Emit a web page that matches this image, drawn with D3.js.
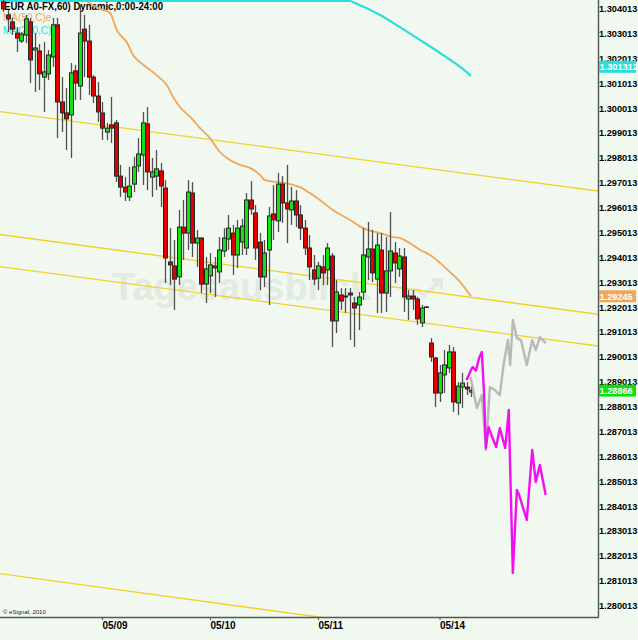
<!DOCTYPE html>
<html><head><meta charset="utf-8">
<script src="https://cdn.jsdelivr.net/npm/d3@7"></script>
<style>
html,body{margin:0;padding:0;background:#f0f8f0;}
svg{display:block;}
text{font-family:"Liberation Sans",Arial,sans-serif;}
</style></head><body>
<script>
// ---------- DATA (hourly bars, index 0 = 05/08 02:00) ----------
const opens = [1.30428,1.30376,1.30348,1.30303,1.30271,1.30295,1.30348,1.30235,1.30231,1.30126,
1.30139,1.30207,1.30336,1.30026,1.29982,1.29974,1.30151,1.30090,1.30319,1.30271,
1.30126,1.30050,1.29982,1.29905,1.29934,1.29942,1.29728,1.29684,1.29644,1.29696,
1.29769,1.29813,1.29938,1.29724,1.29728,1.29749,1.29680,1.29383,1.29367,1.29323,
1.29523,1.29499,1.29660,1.29459,1.29479,1.29294,1.29327,1.29367,1.29343,1.29427,
1.29475,1.29499,1.29411,1.29463,1.29439,1.29632,1.29580,1.29463,1.29323,1.29431,
1.29576,1.29548,1.29696,1.29620,1.29592,1.29628,1.29572,1.29519,1.29439,1.29351,
1.29318,1.29363,1.29351,1.29407,1.29146,1.29250,1.29242,1.29258,1.29218,1.29210,
1.29262,1.29403,1.29435,1.29314,1.29431,1.29258,1.29347,1.29419,1.29355,1.29403,
1.29234,1.29246,1.29234,1.29138,1.29202,1.29057,1.28997,1.28856,1.28929,1.28957,
1.29021,1.28816,1.28880,1.28880,1.28860];
const highs = [1.30436,1.30396,1.30364,1.30327,1.30307,1.30376,1.30364,1.30303,1.30259,1.30267,
1.30235,1.30364,1.30364,1.30126,1.30082,1.30183,1.30175,1.30416,1.30376,1.30336,
1.30134,1.30106,1.30026,1.29942,1.30046,1.29954,1.29773,1.29724,1.29765,1.29805,
1.29881,1.29986,1.30006,1.29801,1.29833,1.29781,1.29712,1.29519,1.29471,1.29592,
1.29632,1.29712,1.29704,1.29511,1.29483,1.29403,1.29419,1.29403,1.29483,1.29519,
1.29572,1.29532,1.29552,1.29556,1.29660,1.29708,1.29612,1.29499,1.29471,1.29604,
1.29692,1.29741,1.29728,1.29773,1.29684,1.29672,1.29612,1.29552,1.29491,1.29411,
1.29383,1.29411,1.29459,1.29419,1.29310,1.29278,1.29278,1.29278,1.29242,1.29262,
1.29519,1.29544,1.29511,1.29499,1.29499,1.29483,1.29584,1.29463,1.29439,1.29439,
1.29270,1.29270,1.29242,1.29210,1.29206,1.29077,1.29001,1.28969,1.29029,1.29049,
1.29041,1.28900,1.28937,1.28900,1.28884];
const lows = [1.30388,1.30307,1.30295,1.30227,1.30263,1.30263,1.30102,1.30066,1.30074,1.29986,
1.30114,1.30167,1.29881,1.29905,1.29833,1.29801,1.30034,1.30034,1.30126,1.30054,
1.30022,1.29946,1.29873,1.29873,1.29861,1.29704,1.29644,1.29628,1.29628,1.29664,
1.29745,1.29692,1.29672,1.29644,1.29672,1.29604,1.29298,1.29290,1.29190,1.29290,
1.29391,1.29431,1.29403,1.29363,1.29258,1.29218,1.29258,1.29242,1.29298,1.29403,
1.29431,1.29331,1.29359,1.29411,1.29411,1.29572,1.29391,1.29270,1.29282,1.29210,
1.29471,1.29503,1.29540,1.29459,1.29532,1.29523,1.29471,1.29411,1.29310,1.29290,
1.29270,1.29290,1.29290,1.29041,1.29097,1.29190,1.29178,1.29069,1.29041,1.29109,
1.29230,1.29310,1.29302,1.29178,1.29178,1.29182,1.29242,1.29298,1.29323,1.29182,
1.29150,1.29190,1.29130,1.29121,1.29198,1.28981,1.28800,1.28820,1.28856,1.28937,
1.28780,1.28768,1.28796,1.28848,1.28840];
const closes = [1.30400,1.30360,1.30319,1.30283,1.30299,1.30360,1.30195,1.30243,1.30139,1.30147,
1.30215,1.30336,1.30026,1.29982,1.29958,1.30143,1.30102,1.30303,1.30271,1.30126,
1.30050,1.29986,1.29921,1.29921,1.29921,1.29728,1.29684,1.29664,1.29688,1.29765,
1.29817,1.29942,1.29745,1.29745,1.29757,1.29688,1.29399,1.29371,1.29314,1.29523,
1.29499,1.29664,1.29459,1.29479,1.29294,1.29355,1.29371,1.29359,1.29431,1.29479,
1.29519,1.29411,1.29519,1.29527,1.29632,1.29596,1.29439,1.29323,1.29419,1.29568,
1.29552,1.29696,1.29620,1.29596,1.29628,1.29572,1.29519,1.29439,1.29363,1.29314,
1.29367,1.29339,1.29439,1.29146,1.29262,1.29226,1.29246,1.29250,1.29198,1.29242,
1.29411,1.29435,1.29339,1.29451,1.29258,1.29347,1.29427,1.29379,1.29407,1.29242,
1.29246,1.29234,1.29154,1.29198,1.29202,1.29001,1.28856,1.28937,1.28969,1.29021,
1.28820,1.28884,1.28896,1.28872,1.28866];

// moving averages as (bar index, value)
const ma50Index = [16,18.2,21.6,23.8,25.3,27.6,28.9,30.4,32.7,34.9,36.4,37.8,39.3,41.6,43.8,46,48.2,50.4,52.7,54.9,57.1,58.2,60.9,63.8,66,68.2,70.4,73.3,77.1,80,83.8,86.7,88.2,90.4,92.7,94.9,97.1,99.3,101.6,104];
const ma50Value = [1.30468,1.30436,1.30400,1.30384,1.30315,1.30263,1.30215,1.30187,1.30155,1.30122,1.30094,1.30046,1.30006,1.29966,1.29921,1.29881,1.29825,1.29793,1.29773,1.29761,1.29733,1.29712,1.29704,1.29696,1.29684,1.29660,1.29632,1.29592,1.29552,1.29519,1.29499,1.29483,1.29479,1.29459,1.29431,1.29411,1.29379,1.29343,1.29302,1.29245];
const ma200Index = [-1,77.1,78.2,83.8,88.2,92.7,97.1,101.6,104];
const ma200Value = [1.30432,1.30432,1.30424,1.30376,1.30327,1.30275,1.30223,1.30167,1.301312];

// trend channel lines (start / end prices)
const channelStart = [1.29988,1.29494,1.29365,1.28131];
const channelEnd   = [1.29666,1.29171,1.29043,1.27801];
const channelIdx   = [-1,133];

// projections
const magentaIndex = [103.0,104.0,104.4,105.1,105.8,106.4,106.9,107.3,107.9,108.7,109.6,110.4,111.6,112.4,112.7,113.3,114.2,114.7,116.4,117.6,118.4,119.3,120.6];
const magentaValue = [1.28908,1.28949,1.28961,1.28946,1.28997,1.29021,1.28856,1.28635,1.28719,1.28679,1.28639,1.28715,1.28635,1.28788,1.28559,1.28133,1.28466,1.28446,1.28346,1.28627,1.28498,1.28567,1.28446];
const grayIndex = [103.9,104.7,105.3,106.4,107.3,108.2,109.3,110.4,111.3,112.2,112.7,113.3,114.2,115.1,116.4,117.6,118.4,119.3,120.6];
const grayValue = [1.28920,1.28848,1.28796,1.28848,1.28627,1.28880,1.28868,1.28848,1.28977,1.29069,1.28969,1.29150,1.29077,1.29069,1.28969,1.29069,1.29029,1.29081,1.29057];

// axis labels
const dateLabels = ["05/09","05/10","05/11","05/14"];
const dateTickIndex = [22,46,70,97];
const priceTicks = d3.range(0,25).map(k => +(1.280013 + k*0.001).toFixed(6));
const markerValues = [1.301312,1.29245,1.28866];
const markerLabels = ["1.301312","1.29245","1.28866"];
const markerColors = ["#28dede","#f2a65a","#12dc12"];

// ---------- CHART ----------
const W = 638, H = 640, plotR = 598, plotB = 617;
const svg = d3.select("body").append("svg").attr("width",W).attr("height",H);
svg.append("rect").attr("width",W).attr("height",H).attr("fill","#f0f8f0");

const x = d3.scaleLinear().domain([0,1]).range([3,7.5]);
const y = d3.scaleLinear().domain([1.279557,1.30436]).range([plotB,0]);

svg.append("clipPath").attr("id","plot").append("rect")
  .attr("x",0).attr("y",0).attr("width",plotR).attr("height",plotB);
const g = svg.append("g").attr("clip-path","url(#plot)");

// watermark
g.append("text").attr("x",112).attr("y",300).text("Tagesausblick")
  .attr("font-size",38).attr("font-weight","bold").attr("fill","#e1ebdf");
g.append("path").attr("d","M404,301 L416,289 L424,296 L440,281 M432,280 L441,280 L441,289")
  .attr("fill","none").attr("stroke","#e1ebdf").attr("stroke-width",4);

// MA legend text
g.append("text").attr("x",3).attr("y",20.5).text("MA(50,C)e")
  .attr("font-size",10).attr("fill","#f2a65a");
g.append("text").attr("x",3).attr("y",33.5).text("MA(200,C)e")
  .attr("font-size",10).attr("fill","#28dede");
// title
g.append("text").attr("x",4).attr("y",9.5).text("EUR A0-FX,60) Dynamic,0:00-24:00")
  .attr("font-size",10).attr("font-weight","bold").attr("fill","#000")
  .attr("textLength",159).attr("lengthAdjust","spacingAndGlyphs");

// channel lines
channelStart.forEach((s,k) => {
  g.append("line")
    .attr("x1",x(channelIdx[0])).attr("y1",y(s))
    .attr("x2",x(channelIdx[1])).attr("y2",y(channelEnd[k]))
    .attr("stroke","#f2d22a").attr("stroke-width",1.4);
});

const line = d3.line().x(d=>x(d[0])).y(d=>y(d[1])).curve(d3.curveMonotoneX);
g.append("path").datum(ma50Index.map((v,k)=>[v,ma50Value[k]])).attr("d",line)
  .attr("fill","none").attr("stroke","#f2a65a").attr("stroke-width",1.8);
g.append("path").datum(ma200Index.map((v,k)=>[v,ma200Value[k]])).attr("d",line)
  .attr("fill","none").attr("stroke","#28dede").attr("stroke-width",2.2);

// candles
const bars = opens.map((o,i)=>({i,o,h:highs[i],l:lows[i],c:closes[i]}));
const cg = g.append("g");
bars.forEach(b => {
  const xc = Math.round(x(b.i));
  cg.append("line").attr("x1",xc+0.5).attr("x2",xc+0.5)
    .attr("y1",y(b.h)).attr("y2",y(b.l))
    .attr("stroke","#505050").attr("stroke-width",1.3);
  const top = y(Math.max(b.o,b.c)), bot = y(Math.min(b.o,b.c));
  const up = b.c >= b.o;
  cg.append("rect").attr("x",xc-1.5).attr("width",4)
    .attr("y",top).attr("height",Math.max(bot-top,0.5))
    .attr("fill", up ? "#14e014" : "#e00000")
    .attr("stroke","#262626").attr("stroke-width",1);
});

// projections
const pline = d3.line().x(d=>x(d[0])).y(d=>y(d[1]));
g.append("path").datum(grayIndex.map((v,k)=>[v,grayValue[k]])).attr("d",pline)
  .attr("fill","none").attr("stroke","#b9b9b9").attr("stroke-width",2.4).attr("stroke-linejoin","round");
g.append("path").datum(magentaIndex.map((v,k)=>[v,magentaValue[k]])).attr("d",pline)
  .attr("fill","none").attr("stroke","#f010f0").attr("stroke-width",2.4).attr("stroke-linejoin","round");

// copyright
svg.append("text").attr("x",3).attr("y",614).text("© eSignal, 2010")
  .attr("font-size",6).attr("fill","#222");

// axes frame
svg.append("line").attr("x1",0).attr("x2",plotR+0.5).attr("y1",plotB+0.5).attr("y2",plotB+0.5)
  .attr("stroke","#555").attr("stroke-width",1.4);
svg.append("line").attr("x1",plotR+0.5).attr("x2",plotR+0.5).attr("y1",0).attr("y2",plotB+0.5)
  .attr("stroke","#555").attr("stroke-width",1.4);

// x axis
const xa = svg.append("g").attr("transform",`translate(0,${plotB})`)
  .call(d3.axisBottom(x).tickValues(dateTickIndex).tickFormat((d,k)=>dateLabels[k]).tickSize(3).tickSizeOuter(0));
xa.select(".domain").remove();
xa.selectAll(".tick line").attr("stroke","#555");
xa.selectAll(".tick text").attr("text-anchor","start").attr("x",0).attr("y",11.5).attr("dy",0)
  .attr("font-size",10).attr("font-weight","bold").attr("fill","#000")
  .attr("font-family","'Liberation Sans',Arial,sans-serif");

// y axis
const ya = svg.append("g").attr("transform",`translate(${plotR},0)`)
  .call(d3.axisRight(y).tickValues(priceTicks).tickFormat(d3.format(".6f")).tickSize(0).tickPadding(1));
ya.select(".domain").remove();
ya.selectAll(".tick text").attr("font-size",9.2).attr("font-weight","bold").attr("fill","#000")
  .attr("font-family","'Liberation Sans',Arial,sans-serif");

// last-value markers
const markerShift = [-9,0,0];
markerValues.forEach((v,k) => {
  const cy = y(v) + markerShift[k];
  svg.append("rect").attr("x",plotR+1).attr("y",cy-6).attr("width",W-plotR-3).attr("height",12)
    .attr("fill",markerColors[k]);
  svg.append("text").attr("x",plotR+1.5).attr("y",cy+3.5).text(markerLabels[k])
    .attr("font-size",9.2).attr("font-weight","bold").attr("fill","#fff");
});
</script>
</body></html>
